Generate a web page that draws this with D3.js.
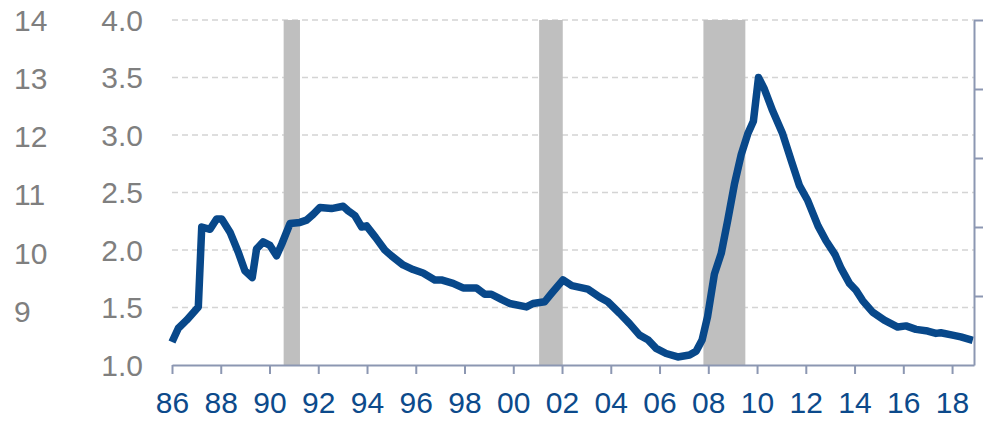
<!DOCTYPE html>
<html><head><meta charset="utf-8">
<script src="https://cdn.jsdelivr.net/npm/d3@7"></script>
<style>html,body{margin:0;padding:0;background:#fff;}svg{display:block;}</style>
</head><body>
<svg id="chart" width="990" height="421"></svg>
<script>
// Data (fractional years, values)
const years = [1986.0,1986.26,1986.6,1987.08,1987.22,1987.56,1987.83,1988.04,1988.38,1988.72,1988.99,1989.29,1989.47,1989.74,1990.02,1990.29,1990.5,1990.84,1991.25,1991.52,1991.79,1992.07,1992.54,1993.02,1993.23,1993.5,1993.78,1993.98,1994.35,1994.73,1995.0,1995.48,1995.89,1996.3,1996.78,1997.05,1997.53,1997.94,1998.49,1998.83,1999.1,1999.51,1999.85,2000.54,2000.81,2001.29,2001.56,2002.04,2002.4,2003.06,2003.54,2003.88,2004.36,2004.77,2005.18,2005.52,2005.86,2006.27,2006.75,2007.23,2007.5,2007.75,2007.97,2008.25,2008.53,2008.8,2009.07,2009.35,2009.62,2009.85,2010.06,2010.3,2010.64,2011.05,2011.4,2011.74,2012.08,2012.5,2012.83,2013.2,2013.45,2013.79,2014.06,2014.33,2014.74,2015.22,2015.77,2016.11,2016.52,2017.0,2017.34,2017.54,2018.02,2018.36,2018.85];
const values = [1.2,1.32,1.39,1.505,2.2,2.18,2.27,2.27,2.155,1.98,1.82,1.76,2.01,2.07,2.04,1.95,2.05,2.23,2.24,2.26,2.31,2.37,2.36,2.38,2.34,2.3,2.2,2.21,2.11,2.0,1.95,1.87,1.83,1.8,1.74,1.74,1.71,1.67,1.67,1.615,1.615,1.57,1.535,1.505,1.535,1.55,1.62,1.74,1.69,1.66,1.59,1.55,1.45,1.36,1.26,1.22,1.145,1.1,1.07,1.087,1.12,1.22,1.42,1.79,1.97,2.26,2.57,2.83,3.01,3.12,3.5,3.4,3.21,3.01,2.78,2.56,2.43,2.21,2.08,1.96,1.84,1.71,1.65,1.56,1.46,1.39,1.33,1.34,1.31,1.295,1.275,1.28,1.26,1.245,1.215];
const recessions = [[1990.58,1991.25],[2001.06,2002.03],[2007.8,2009.52]];
const leftTicks = [1.0,1.5,2.0,2.5,3.0,3.5,4.0];
const outerTicks = [9,10,11,12,13,14];
const xTickYears = d3.range(1986, 2019, 2);
const rightTickCount = 5;

const svg = d3.select("#chart");
const L = 172, R = 974, T = 20, B = 365;
const x = d3.scaleLinear().domain([1986, 2018.9]).range([L, R]);
const y = d3.scaleLinear().domain([1.0, 4.0]).range([B, T]);
const yOuter = d3.scaleLinear().domain([9, 14]).range([311, 20]);
const yRight = d3.scaleLinear().domain([0, rightTickCount]).range([B, T]);

const font = "'Liberation Sans', Arial, sans-serif";
const axisCol = "#8c97b2";

// gridlines
svg.append("g").selectAll("line").data(leftTicks.filter(d => d > 1)).join("line")
  .attr("x1", L).attr("x2", R).attr("y1", d => y(d)).attr("y2", d => y(d))
  .attr("stroke", "#d4d4d4").attr("stroke-width", 1.5).attr("stroke-dasharray", "6,4");

// recession bars
svg.append("g").selectAll("rect").data(recessions).join("rect")
  .attr("x", d => x(d[0])).attr("width", d => x(d[1]) - x(d[0]))
  .attr("y", T).attr("height", B - T).attr("fill", "#bfbfbf");

// line
const line = d3.line().x((d, i) => x(years[i])).y(d => y(d)).curve(d3.curveLinear);
svg.append("path").datum(values).attr("d", line)
  .attr("fill", "none").attr("stroke", "#08488a").attr("stroke-width", 7.5)
  .attr("stroke-linejoin", "round").attr("stroke-linecap", "butt");

// bottom axis
const xAxis = d3.axisBottom(x).tickValues(xTickYears).tickSize(9).tickSizeOuter(0)
  .tickFormat(d => String(d % 100).padStart(2, "0"));
const gx = svg.append("g").attr("transform", `translate(0,${B})`).call(xAxis);
gx.select(".domain").attr("stroke", axisCol).attr("stroke-width", 2);
gx.selectAll(".tick line").attr("stroke", axisCol).attr("stroke-width", 2);
gx.selectAll(".tick text").attr("font-family", font).attr("font-size", 30)
  .attr("fill", "#0c4a8b").attr("dy", "0").attr("y", 48);

// right axis
const yAxisR = d3.axisRight(yRight).ticks(rightTickCount).tickSize(9).tickSizeOuter(0).tickFormat("");
const gr = svg.append("g").attr("transform", `translate(${R},0)`).call(yAxisR);
gr.select(".domain").attr("stroke", axisCol).attr("stroke-width", 2);
gr.selectAll(".tick line").attr("stroke", axisCol).attr("stroke-width", 2);
gr.selectAll(".tick").filter(d => d === 0).select("line").remove();

// inner left labels
svg.append("g").selectAll("text").data(leftTicks).join("text")
  .attr("x", 143).attr("y", d => y(d)).attr("dy", "0.36em")
  .attr("text-anchor", "end").attr("font-family", font).attr("font-size", 30)
  .attr("fill", "#7f7f7f").text(d => d.toFixed(1));

// outer left labels
svg.append("g").selectAll("text").data(outerTicks).join("text")
  .attr("x", 14).attr("y", d => yOuter(d)).attr("dy", "0.36em")
  .attr("text-anchor", "start").attr("font-family", font).attr("font-size", 30)
  .attr("fill", "#7f7f7f").text(d => d);
</script>
</body></html>
